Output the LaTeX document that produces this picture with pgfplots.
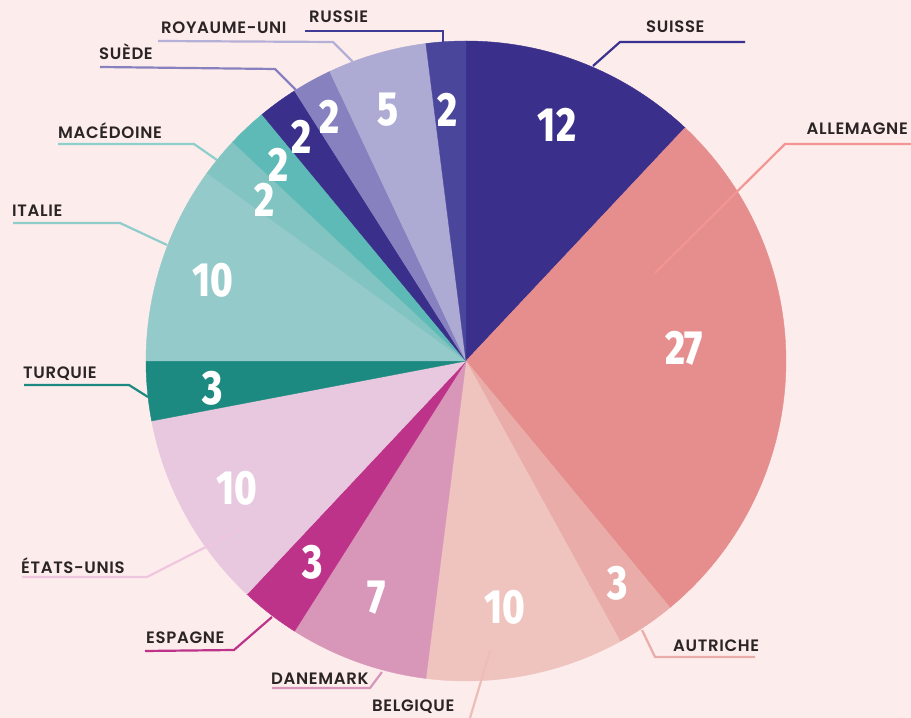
\documentclass[border=0pt]{standalone}
\usepackage{pgfplots}
\pgfplotsset{compat=1.18}
\usepackage{fontspec}
\setmainfont{Poppins}
\newfontfamily\labfont{Poppins}[UprightFont=* SemiBold, LetterSpace=4]
\newfontfamily\numfont{Fira Sans}[UprightFont=* ExtraBold, FakeStretch=0.8]
\definecolor{bg}{HTML}{FDECEC}
\definecolor{labcol}{HTML}{2B2424}
\definecolor{cSuisse}{HTML}{3A2F8A}
\definecolor{cAllemagne}{HTML}{E58E8D}
\definecolor{cAutriche}{HTML}{EAACA8}
\definecolor{cBelgique}{HTML}{F0C4BE}
\definecolor{cDanemark}{HTML}{D896B9}
\definecolor{cEspagne}{HTML}{BE338A}
\definecolor{cEtats}{HTML}{E8C8DF}
\definecolor{cTurquie}{HTML}{1C8A80}
\definecolor{cItalie}{HTML}{95CACA}
\definecolor{cMacedoine}{HTML}{81C4C1}
\definecolor{cTeal}{HTML}{5EBAB6}
\definecolor{cIndigo}{HTML}{3A2F8A}
\definecolor{cSuede}{HTML}{8782BF}
\definecolor{cRU}{HTML}{ADAAD4}
\definecolor{cRussie}{HTML}{4A469C}
\definecolor{lSuisse}{HTML}{3A3290}
\definecolor{lAllemagne}{HTML}{F29593}
\definecolor{lBelgique}{HTML}{EDBDB7}
\definecolor{lEtats}{HTML}{EFC6DF}
\definecolor{lItalie}{HTML}{8FCCCA}
\definecolor{lMacedoine}{HTML}{8CCFCB}
\definecolor{lRU}{HTML}{B5B0D8}
\definecolor{lRussie}{HTML}{3E3A96}
% #1 = cumulative start, #2 = value, #3 = colour
\newcommand\slice[3]{%
  \addplot[fill=#3, draw=#3, line width=0.4pt, domain=90-(#1+#2)*3.6:90-(#1)*3.6, samples=80]
    ({466+320*cos(x)},{357+320*sin(x)}) -- (466,357) -- cycle;}
\newcommand\lab[4][base west]{\node[anchor=#1, inner sep=0pt, text=labcol, font=\labfont\fontsize{16.5bp}{18bp}\selectfont] at (#2,#3) {#4};}
\newcommand\num[3]{\node[anchor=center, inner sep=0pt, text=white, font=\numfont\fontsize{48bp}{50bp}\selectfont] at (#1,#2) {#3};}
\begin{document}
\begin{tikzpicture}
\begin{axis}[
  x=1bp, y=1bp, scale only axis,
  xmin=0, xmax=911, ymin=0, ymax=718,
  hide axis, clip=true,
]
\addplot[fill=bg, draw=none] coordinates {(0,0) (911,0) (911,718) (0,718)} -- cycle;
% pie slices: start, value, colour
\slice{0}{12}{cSuisse}
\slice{12}{27}{cAllemagne}
\slice{39}{3}{cAutriche}
\slice{42}{10}{cBelgique}
\slice{52}{7}{cDanemark}
\slice{59}{3}{cEspagne}
\slice{62}{10}{cEtats}
\slice{72}{3}{cTurquie}
\slice{75}{10}{cItalie}
\slice{85}{2}{cMacedoine}
\slice{87}{2}{cTeal}
\slice{89}{2}{cIndigo}
\slice{91}{2}{cSuede}
\slice{93}{5}{cRU}
\slice{98}{2}{cRussie}
% leader lines
\addplot[lSuisse, line width=2.2bp] coordinates {(745,676) (620,676) (593,652)};
\addplot[lAllemagne, line width=2.2bp] coordinates {(911,574) (785,574) (655,445)};
\addplot[cAutriche, line width=2.2bp] coordinates {(642,88) (655,61) (755,61)};
\addplot[lBelgique, line width=2.2bp] coordinates {(470,0) (490,67)};
\addplot[cDanemark, line width=2.2bp] coordinates {(272,30) (370,30) (382,46)};
\addplot[cEspagne, line width=2.2bp] coordinates {(145,67) (234,68) (272,101)};
\addplot[lEtats, line width=2.2bp] coordinates {(22,141) (147,141) (245,191)};
\addplot[cTurquie, line width=2.2bp] coordinates {(24,333) (129,333) (148,321)};
\addplot[lItalie, line width=2.2bp] coordinates {(13,495) (120,495) (167,473)};
\addplot[lMacedoine, line width=2.2bp] coordinates {(58,574) (194,574) (217,558)};
\addplot[cSuede, line width=2.2bp] coordinates {(100,651) (275,649) (296,628)};
\addplot[lRU, line width=2.2bp] coordinates {(158,677) (333,676) (353,656)};
\addplot[lRussie, line width=2.2bp] coordinates {(305,687) (443,687) (443,676)};
% labels
\lab{646}{685}{SUISSE}
\lab[base east]{908}{583}{ALLEMAGNE}
\lab{673}{66}{AUTRICHE}
\lab{372}{6}{BELGIQUE}
\lab{271}{33}{DANEMARK}
\lab{146}{74}{ESPAGNE}
\lab{21}{144}{ÉTATS-UNIS}
\lab{23}{339}{TURQUIE}
\lab{12}{501}{ITALIE}
\lab{58}{579}{MACÉDOINE}
\lab{99}{658}{SUÈDE}
\lab{161}{684}{ROYAUME-UNI}
\lab{309}{695}{RUSSIE}
% values
\num{557}{593}{12}
\num{684}{370}{27}
\num{618}{135}{3}
\num{505}{111}{10}
\num{377}{120}{7}
\num{313}{156}{3}
\num{237}{230}{10}
\num{213}{330}{3}
\num{213}{438}{10}
\num{265}{518}{2}
\num{279}{553}{2}
\num{302}{581}{2}
\num{330}{601}{2}
\num{388}{608}{5}
\num{448}{608}{2}
\end{axis}
\end{tikzpicture}
\end{document}
